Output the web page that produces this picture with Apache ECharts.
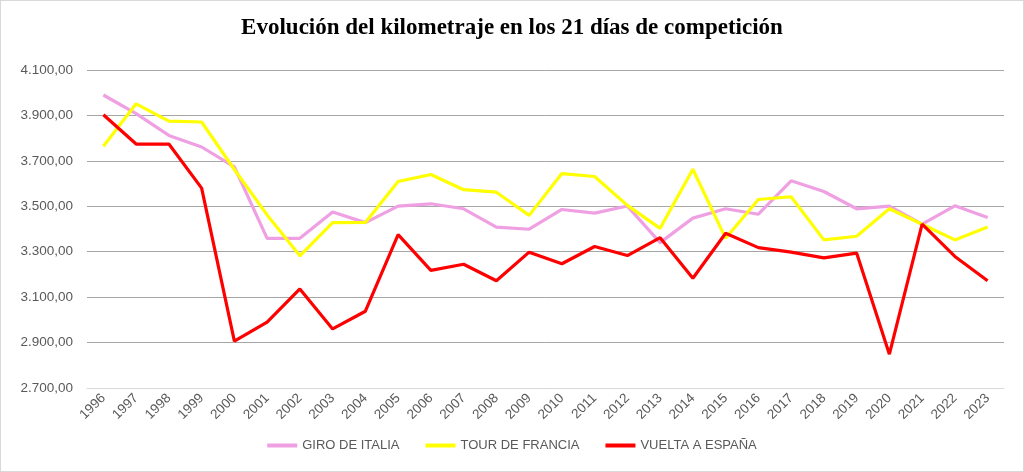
<!DOCTYPE html>
<html>
<head>
<meta charset="utf-8">
<script src="https://cdn.jsdelivr.net/npm/echarts@6/dist/echarts.min.js"></script>
<style>
html,body{margin:0;padding:0;background:#fff;}
#c{position:absolute;left:0;top:0;width:1022px;height:470px;border:1px solid #d9d9d9;}
</style>
</head>
<body>
<div id="c"></div>
<script>
const years = ['1996','1997','1998','1999','2000','2001','2002','2003','2004','2005','2006','2007','2008','2009','2010','2011','2012','2013','2014','2015','2016','2017','2018','2019','2020','2021','2022','2023'];
const giro = [3990,3908,3812,3761,3673,3359,3359,3475,3428,3501,3511,3489,3408,3399,3486,3470,3501,3340,3448,3489,3465,3612,3565,3489,3501,3421,3502,3451];
const tour = [3764,3951,3875,3871,3662,3462,3282,3428,3429,3609,3640,3573,3562,3460,3644,3631,3504,3403,3663,3359,3530,3542,3352,3368,3489,3421,3352,3409];
const vuelta = [3903,3774,3774,3580,2906,2990,3136,2960,3038,3375,3218,3245,3172,3298,3247,3323,3283,3362,3183,3381,3318,3298,3273,3294,2849,3421,3279,3172];
const seriesNames = ['GIRO DE ITALIA','TOUR DE FRANCIA','VUELTA A ESPAÑA'];
const title = 'Evolución del kilometraje en los 21 días de competición';

const fmt = v => {
  const s = Math.round(v).toString().replace(/\B(?=(\d{3})+(?!\d))/g, '.');
  return s + ',00';
};
const chart = echarts.init(document.getElementById('c'));
const colors = ['#EFA0E2','#FFFF00','#FF0000'];
chart.setOption({
  animation:false,
  title:{text:title,left:'center',top:11,textStyle:{fontFamily:'Liberation Serif',fontWeight:'bold',fontSize:23,color:'#000'}},
  grid:{left:86,right:19,top:69,bottom:83},
  legend:{bottom:14,left:'center',itemWidth:30,itemHeight:4,itemGap:26,icon:'rect',
    textStyle:{fontFamily:'Liberation Sans',fontSize:13,color:'#595959'},
    data:seriesNames},
  xAxis:{type:'category',data:years,boundaryGap:true,
    axisLine:{lineStyle:{color:'#d9d9d9',width:1}},axisTick:{show:false},
    axisLabel:{rotate:45,fontFamily:'Liberation Sans',fontSize:13.5,color:'#595959',margin:8}},
  yAxis:{type:'value',min:2700,max:4100,interval:200,
    axisLine:{show:false},axisTick:{show:false},
    splitLine:{lineStyle:{color:'#a6a6a6',width:1}},
    axisLabel:{formatter:fmt,fontFamily:'Liberation Sans',fontSize:13.5,color:'#595959',margin:14}},
  series:[
    {name:seriesNames[0],type:'line',data:giro,symbol:'none',lineStyle:{width:3.2,color:colors[0]},itemStyle:{color:colors[0]}},
    {name:seriesNames[1],type:'line',data:tour,symbol:'none',lineStyle:{width:3.2,color:colors[1]},itemStyle:{color:colors[1]}},
    {name:seriesNames[2],type:'line',data:vuelta,symbol:'none',lineStyle:{width:3.2,color:colors[2]},itemStyle:{color:colors[2]}}
  ]
});
</script>
</body>
</html>
